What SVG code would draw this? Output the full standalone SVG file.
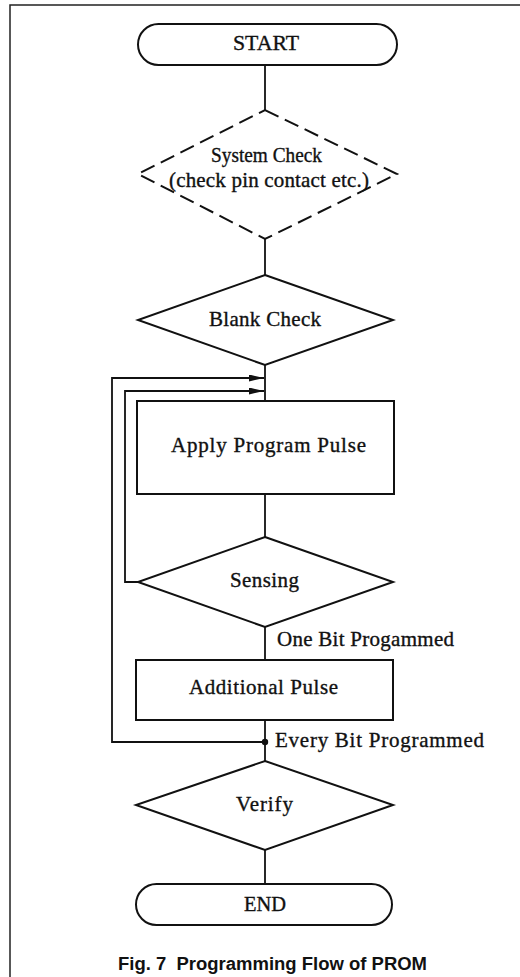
<svg xmlns="http://www.w3.org/2000/svg" width="520" height="977" viewBox="0 0 520 977">
<style>
.s{fill:#fff;stroke:#111;stroke-width:2}
.d{fill:none;stroke:#111;stroke-width:2;stroke-dasharray:15 7}
.c{fill:none;stroke:#111;stroke-width:1.8}
.t{font-family:"Liberation Serif",serif;font-size:21px;fill:#111;stroke:#111;stroke-width:0.35}
.cap{font-family:"Liberation Sans",Arial,sans-serif;font-size:18px;font-weight:bold;fill:#111}
</style>
<defs>
<marker id="ah" markerWidth="15" markerHeight="7" refX="15" refY="3.5" orient="auto" markerUnits="userSpaceOnUse">
<path d="M0,0 L15,3.5 L0,7 Z" fill="#111"/>
</marker>
</defs>
<rect width="520" height="977" fill="#fff"/>
<path d="M10,977 V5 H520" fill="none" stroke="#222" stroke-width="1.5"/>
<g id="connectors">
<line class="c" x1="265" y1="65" x2="265" y2="110"/>
<line class="c" x1="265" y1="239" x2="265" y2="275"/>
<line class="c" x1="265" y1="365" x2="265" y2="401"/>
<line class="c" x1="265" y1="494" x2="265" y2="537"/>
<line class="c" x1="265" y1="627" x2="265" y2="660"/>
<line class="c" x1="265" y1="720" x2="265" y2="761"/>
<line class="c" x1="265" y1="850" x2="265" y2="884"/>
<path class="c" d="M265,742 H112 V378 H264" marker-end="url(#ah)"/>
<path class="c" d="M138,582 H125 V391 H264" marker-end="url(#ah)"/>
<circle cx="265" cy="742" r="3.2" fill="#111"/>
<text class="t" x="277" y="646" textLength="177" lengthAdjust="spacing">One Bit Progammed</text>
<text class="t" x="275" y="747" textLength="209" lengthAdjust="spacing">Every Bit Programmed</text>
</g>
<g id="start">
<rect class="s" x="138" y="24" width="259" height="41" rx="20.5"/>
<text class="t" x="233" y="50" textLength="66" lengthAdjust="spacingAndGlyphs">START</text>
</g>
<g id="system-check">
<polygon class="d" points="265,110 397,174 265,239 138,174"/>
<text class="t" x="211" y="162" textLength="111" lengthAdjust="spacingAndGlyphs">System Check</text>
<text class="t" x="169" y="187" textLength="200" lengthAdjust="spacing">(check pin contact etc.)</text>
</g>
<g id="blank-check">
<polygon class="s" points="265,275 393,320 265,365 138,320"/>
<text class="t" x="209" y="326" textLength="112" lengthAdjust="spacing">Blank Check</text>
</g>
<g id="apply-program-pulse">
<rect class="s" x="137" y="401" width="257" height="93"/>
<text class="t" x="171" y="452" textLength="195" lengthAdjust="spacing">Apply Program Pulse</text>
</g>
<g id="sensing">
<polygon class="s" points="265,537 393,582 265,627 138,582"/>
<text class="t" x="230" y="587" textLength="69" lengthAdjust="spacing">Sensing</text>
</g>
<g id="additional-pulse">
<rect class="s" x="136" y="660" width="257" height="60"/>
<text class="t" x="189" y="694" textLength="149" lengthAdjust="spacing">Additional Pulse</text>
</g>
<g id="verify">
<polygon class="s" points="265,761 393,805 265,850 136,805"/>
<text class="t" x="236" y="811" textLength="57" lengthAdjust="spacing">Verify</text>
</g>
<g id="end">
<rect class="s" x="136" y="884" width="256" height="41" rx="20.5"/>
<text class="t" x="244" y="911" textLength="42" lengthAdjust="spacingAndGlyphs">END</text>
</g>
<text class="cap" x="118" y="970" textLength="309" lengthAdjust="spacingAndGlyphs">Fig. 7&#160; Programming Flow of PROM</text>
</svg>
